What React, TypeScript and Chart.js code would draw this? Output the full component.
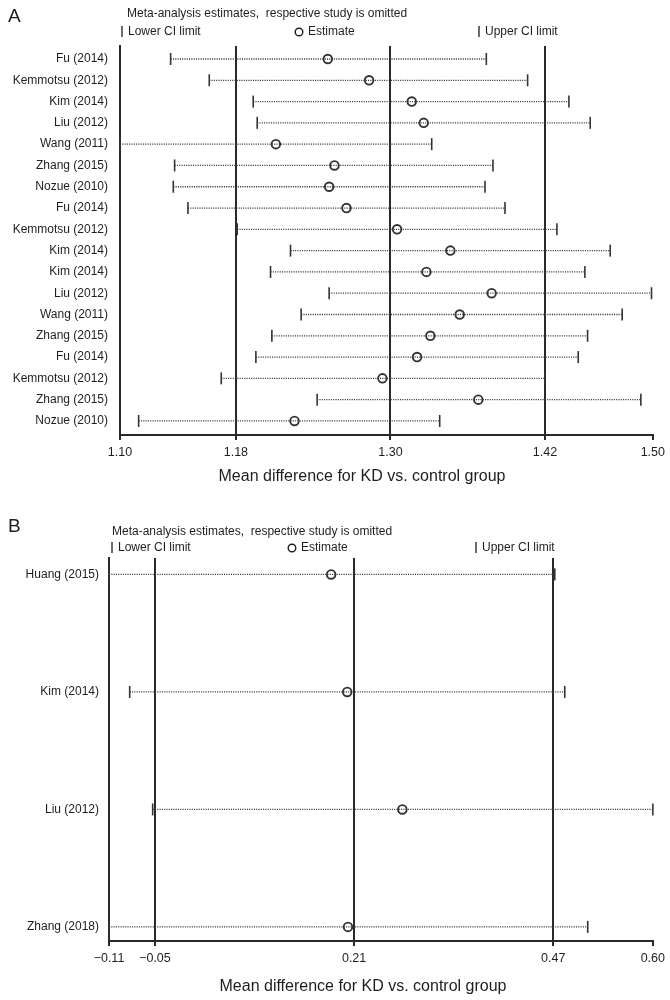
import React, { useEffect, useRef } from "react";
import { Chart, registerables } from "chart.js";
Chart.register(...registerables);

// ---------- Panel A data ----------
const studiesA = [
  "Fu (2014)", "Kemmotsu (2012)", "Kim (2014)", "Liu (2012)", "Wang (2011)", "Zhang (2015)",
  "Nozue (2010)", "Fu (2014)", "Kemmotsu (2012)", "Kim (2014)", "Kim (2014)", "Liu (2012)",
  "Wang (2011)", "Zhang (2015)", "Fu (2014)", "Kemmotsu (2012)", "Zhang (2015)", "Nozue (2010)",
];
const lowerA = [1.138, 1.167, 1.200, 1.203, 1.100, 1.141, 1.140, 1.151, 1.188, 1.228, 1.213, 1.257, 1.236, 1.214, 1.202, 1.176, 1.248, 1.114];
const estimateA = [1.256, 1.287, 1.319, 1.328, 1.217, 1.261, 1.257, 1.270, 1.308, 1.348, 1.330, 1.379, 1.355, 1.333, 1.323, 1.297, 1.369, 1.231];
const upperA = [1.375, 1.406, 1.437, 1.453, 1.334, 1.380, 1.374, 1.389, 1.428, 1.468, 1.449, 1.499, 1.477, 1.451, 1.444, 1.419, 1.491, 1.340];
const tickValuesA = [1.10, 1.187, 1.303, 1.419, 1.50];
const tickLabelsA = ["1.10", "1.18", "1.30", "1.42", "1.50"];

// ---------- Panel B data ----------
const studiesB = ["Huang (2015)", "Kim (2014)", "Liu (2012)", "Zhang (2018)"];
const lowerB = [-0.11, -0.083, -0.053, -0.11];
const estimateB = [0.180, 0.201, 0.273, 0.202];
const upperB = [0.472, 0.485, 0.600, 0.515];
const tickValuesB = [-0.11, -0.05, 0.21, 0.47, 0.60];
const tickLabelsB = ["\u22120.11", "\u22120.05", "0.21", "0.47", "0.60"];

const titleText = "Meta-analysis estimates,  respective study is omitted";
const axisTitleText = "Mean difference for KD vs. control group";

const FONT = "'Liberation Sans', Arial, Helvetica, sans-serif";
const INK = "#1e1e1e";
const LINE = "#2a2a2a";

type Spec = {
  letter: string;
  studies: string[];
  lower: number[];
  estimate: number[];
  upper: number[];
  tickValues: number[];
  tickLabels: string[];
  xMin: number;
  xMax: number;
  yMin: number;
  yMax: number;
  plotLeft: number;
  plotRight: number;
  plotTop: number;
  plotBottom: number;
  labelFont: number;
  labelPad: number;
  letterY: number;
  titleX: number;
  titleY: number;
  legendY: number;
  lowerX: number;
  estX: number;
  upperX: number;
  axisTitleX: number;
  axisTitleY: number;
};

const specA: Spec = {
  letter: "A",
  studies: studiesA, lower: lowerA, estimate: estimateA, upper: upperA,
  tickValues: tickValuesA, tickLabels: tickLabelsA,
  xMin: 1.10, xMax: 1.50, yMin: -0.61, yMax: 17.66,
  plotLeft: 120, plotRight: 654, plotTop: 46, plotBottom: 435,
  labelFont: 12, labelPad: 4,
  letterY: 17, titleX: 127, titleY: 14, legendY: 32,
  lowerX: 122, estX: 299, upperX: 479,
  axisTitleX: 362, axisTitleY: 477,
};

const specB: Spec = {
  letter: "B",
  studies: studiesB, lower: lowerB, estimate: estimateB, upper: upperB,
  tickValues: tickValuesB, tickLabels: tickLabelsB,
  xMin: -0.11, xMax: 0.60, yMin: -0.14, yMax: 3.12,
  plotLeft: 109, plotRight: 653, plotTop: 58, plotBottom: 441,
  labelFont: 12, labelPad: 2,
  letterY: 27, titleX: 112, titleY: 32, legendY: 48,
  lowerX: 112, estX: 292, upperX: 476,
  axisTitleX: 363, axisTitleY: 487,
};

const W = 670;
const H = 500;
const X_AXIS_H = 30;

function Panel({ spec }: { spec: Spec }) {
  const ref = useRef<HTMLCanvasElement | null>(null);
  useEffect(() => {
    if (!ref.current) return;
    const s = spec;
    const lastTick = s.tickValues.length - 1;

    const ciSets = s.studies.map((_, i) => ({
      type: "scatter" as const,
      data: [{ x: s.lower[i], y: i }, { x: s.upper[i], y: i }],
      showLine: true,
      borderColor: "#3a3a3a",
      borderWidth: 1.3,
      borderDash: [1.1, 1.2],
      pointRadius: 0,
      clip: false as const,
    }));

    const endSet = {
      type: "scatter" as const,
      data: s.studies.flatMap((_, i) => [{ x: s.lower[i], y: i }, { x: s.upper[i], y: i }]),
      pointStyle: "line" as const,
      rotation: 90,
      pointRadius: 6,
      pointBorderWidth: 1.6,
      borderColor: "#333",
      backgroundColor: "#333",
      clip: false as const,
    };

    const estSet = {
      type: "scatter" as const,
      data: s.studies.map((_, i) => ({ x: s.estimate[i], y: i })),
      pointStyle: "circle" as const,
      pointRadius: 4.3,
      pointBorderWidth: 1.9,
      borderColor: "#333",
      backgroundColor: "rgba(255,255,255,0)",
      clip: false as const,
    };

    const textPlugin = {
      id: "panelText",
      afterDraw(chart: any) {
        const ctx = chart.ctx as CanvasRenderingContext2D;
        ctx.save();
        ctx.fillStyle = INK;
        ctx.textBaseline = "middle";
        ctx.textAlign = "left";
        ctx.font = `19px ${FONT}`;
        ctx.fillText(s.letter, 8, s.letterY);
        ctx.font = `12px ${FONT}`;
        ctx.fillText(titleText, s.titleX, s.titleY);
        // legend
        ctx.strokeStyle = INK;
        ctx.lineWidth = 1.3;
        ctx.beginPath();
        ctx.moveTo(s.lowerX, s.legendY - 6);
        ctx.lineTo(s.lowerX, s.legendY + 5);
        ctx.moveTo(s.upperX, s.legendY - 6);
        ctx.lineTo(s.upperX, s.legendY + 5);
        ctx.stroke();
        ctx.fillText("Lower CI limit", s.lowerX + 6, s.legendY);
        ctx.fillText("Upper CI limit", s.upperX + 6, s.legendY);
        ctx.beginPath();
        ctx.lineWidth = 1.4;
        ctx.arc(s.estX, s.legendY, 3.8, 0, Math.PI * 2);
        ctx.stroke();
        ctx.fillText("Estimate", s.estX + 9, s.legendY);
        // axis title
        ctx.textAlign = "center";
        ctx.font = `16px ${FONT}`;
        ctx.fillText(axisTitleText, s.axisTitleX, s.axisTitleY);
        ctx.restore();
      },
    };

    const chart = new Chart(ref.current, {
      type: "scatter",
      data: { datasets: [...ciSets, endSet, estSet] as any },
      options: {
        animation: false,
        responsive: false,
        events: [],
        layout: {
          padding: {
            top: s.plotTop,
            right: W - s.plotRight,
            left: 0,
            bottom: H - s.plotBottom - X_AXIS_H,
          },
        },
        plugins: { legend: { display: false }, tooltip: { enabled: false }, title: { display: false } },
        scales: {
          x: {
            type: "linear",
            min: s.xMin,
            max: s.xMax,
            afterBuildTicks: (scale: any) => {
              scale.ticks = s.tickValues.map((v) => ({ value: v }));
            },
            afterFit: (scale: any) => {
              scale.height = X_AXIS_H;
            },
            ticks: {
              autoSkip: false,
              maxRotation: 0,
              padding: 5,
              color: INK,
              font: { family: FONT, size: 12.5 },
              callback: (_v: any, i: number) => s.tickLabels[i],
            },
            grid: {
              display: true,
              drawOnChartArea: true,
              drawTicks: true,
              tickLength: 5,
              lineWidth: 2,
              tickWidth: 2,
              tickColor: LINE,
              color: (c: any) => (c.index === 0 || c.index === lastTick ? "rgba(0,0,0,0)" : LINE),
            },
            border: { display: true, width: 2, color: LINE },
          },
          y: {
            type: "linear",
            reverse: true,
            min: s.yMin,
            max: s.yMax,
            afterBuildTicks: (scale: any) => {
              scale.ticks = s.studies.map((_, i) => ({ value: i }));
            },
            afterFit: (scale: any) => {
              scale.width = s.plotLeft;
            },
            ticks: {
              autoSkip: false,
              padding: s.labelPad,
              color: INK,
              font: { family: FONT, size: s.labelFont },
              callback: (v: any) => s.studies[Math.round(Number(v))] ?? "",
            },
            grid: { display: false },
            border: { display: true, width: 2, color: LINE },
          },
        },
      },
      plugins: [textPlugin],
    });
    return () => chart.destroy();
  }, [spec]);

  return <canvas ref={ref} width={W} height={H} style={{ display: "block", width: W, height: H }} />;
}

export default function App() {
  return (
    <div style={{ position: "absolute", left: 0, top: 0, width: W, height: 2 * H, background: "#fff" }}>
      <Panel spec={specA} />
      <Panel spec={specB} />
    </div>
  );
}
